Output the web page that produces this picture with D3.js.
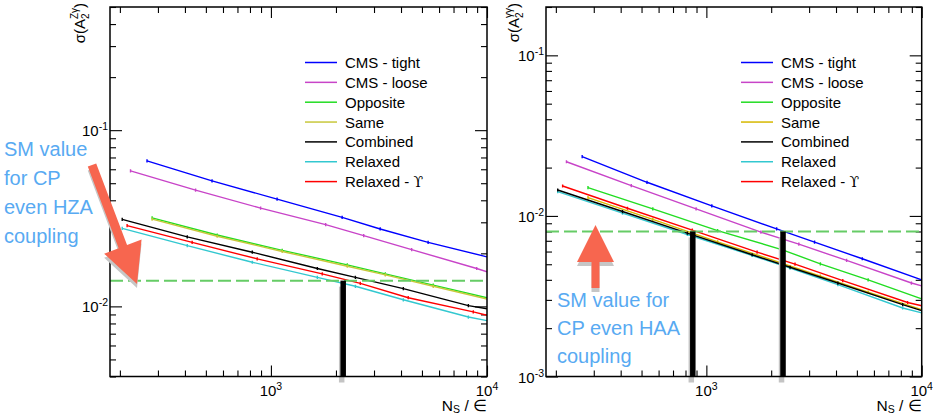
<!DOCTYPE html>
<html><head><meta charset="utf-8">
<script src="https://cdn.jsdelivr.net/npm/d3@7"></script>
<style>
body{margin:0;background:#fff;}
svg{display:block;font-family:"Liberation Sans",Arial,Helvetica,sans-serif;}
</style></head><body>
<svg id="c" width="933" height="415"></svg>
<script>
// ---------------- data ----------------
const seriesNames = ["CMS - tight", "CMS - loose", "Opposite", "Same", "Combined", "Relaxed", "Relaxed - ϒ"];
const xDomain = [180, 10000];
const leftYDomain = [0.004, 0.5];
const rightYDomain = [0.001, 0.2];

// Left panel: sigma(A2^{Zgamma}) vs N_S
const leftN_tight = [267, 534, 1068, 2136, 3204, 5340, 10000];
const leftS_tight = [0.0670, 0.0516, 0.0406, 0.0320, 0.0275, 0.0231, 0.0191];
const leftN_loose = [224, 448, 896, 1792, 2688, 4480, 8960, 10000];
const leftS_loose = [0.0587, 0.0457, 0.0361, 0.0291, 0.0252, 0.0210, 0.0164, 0.0157];
const leftN_opp = [282, 564, 1128, 2256, 3384, 5640, 10000];
const leftS_opp = [0.0318, 0.0254, 0.0208, 0.0172, 0.0153, 0.0132, 0.0112];
const leftN_same = [282, 564, 1128, 2256, 3384, 5640, 10000];
const leftS_same = [0.0313, 0.0250, 0.0205, 0.0169, 0.0151, 0.0130, 0.0110];
const leftN_comb = [205, 410, 820, 1640, 2460, 4100, 8200, 10000];
const leftS_comb = [0.0312, 0.0248, 0.0203, 0.0164, 0.0146, 0.0126, 0.0101, 0.0097];
const leftN_relax = [205, 410, 820, 1640, 2460, 4100, 8200, 10000];
const leftS_relax = [0.0277, 0.0221, 0.0178, 0.0146, 0.0130, 0.0109, 0.0087, 0.0083];
const leftN_relaxY = [216, 432, 864, 1728, 2592, 4320, 8640, 10000];
const leftS_relaxY = [0.0287, 0.0231, 0.0186, 0.0153, 0.0135, 0.0112, 0.0093, 0.0089];

// Right panel: sigma(A2^{gammagamma}) vs N_S
const rightN_tight = [265, 530, 1060, 2120, 3180, 5300, 10000];
const rightS_tight = [0.0234, 0.0162, 0.01154, 0.0083, 0.00687, 0.00541, 0.0040];
const rightN_loose = [224, 448, 896, 1792, 2688, 4480, 8960, 10000];
const rightS_loose = [0.02175, 0.01543, 0.01105, 0.00792, 0.00667, 0.00528, 0.00382, 0.00367];
const rightN_opp = [282, 564, 1128, 2256, 3384, 5640, 10000];
const rightS_opp = [0.01499, 0.01105, 0.00810, 0.00615, 0.00503, 0.00400, 0.00304];
const rightN_same = [282, 564, 1128, 2256, 3384, 5640, 10000];
const rightS_same = [0.01299, 0.00951, 0.00690, 0.00507, 0.00422, 0.00335, 0.00261];
const rightN_comb = [204, 408, 816, 1632, 2448, 4080, 8160, 10000];
const rightS_comb = [0.01450, 0.01065, 0.00782, 0.00573, 0.00479, 0.00382, 0.00280, 0.00257];
const rightN_relax = [204, 408, 816, 1632, 2448, 4080, 8160, 10000];
const rightS_relax = [0.01416, 0.01041, 0.00766, 0.00567, 0.00473, 0.00373, 0.00267, 0.00249];
const rightN_relaxY = [215, 430, 860, 1720, 2580, 4300, 8600, 10000];
const rightS_relaxY = [0.01536, 0.01116, 0.00815, 0.00595, 0.00501, 0.00395, 0.00289, 0.00276];

// SM reference values and crossing points
const leftSM = 0.014;
const rightSM = 0.008;
const leftCrossN = [2160];
const rightCrossN = [865, 2270];

const leftNote = ["SM value", "for CP", "even HZA", "coupling"];
const rightNote = ["SM value for", "CP even HAA", "coupling"];

// ---------------- styles ----------------
const leftColors = ["#0000ff", "#c844c8", "#22dd22", "#c8c83c", "#000000", "#33c8d0", "#ff0000"];
const rightColors = ["#0000ff", "#c844c8", "#22dd22", "#d6b800", "#000000", "#33c8d0", "#ff0000"];
const drawOrder = [0, 1, 2, 3, 5, 6, 4];

const panels = [
  {
    frame: {x0: 110, x1: 487, y0: 7, y1: 376.5},
    yDomain: leftYDomain,
    N: [leftN_tight, leftN_loose, leftN_opp, leftN_same, leftN_comb, leftN_relax, leftN_relaxY],
    S: [leftS_tight, leftS_loose, leftS_opp, leftS_same, leftS_comb, leftS_relax, leftS_relaxY],
    colors: leftColors, sm: leftSM, cross: leftCrossN, ySup: "Zγ", yTitleX: 85,
    note: leftNote
  },
  {
    frame: {x0: 546, x1: 921.7, y0: 7, y1: 376.5},
    yDomain: rightYDomain,
    N: [rightN_tight, rightN_loose, rightN_opp, rightN_same, rightN_comb, rightN_relax, rightN_relaxY],
    S: [rightS_tight, rightS_loose, rightS_opp, rightS_same, rightS_comb, rightS_relax, rightS_relaxY],
    colors: rightColors, sm: rightSM, cross: rightCrossN, ySup: "γγ", yTitleX: 519,
    note: rightNote
  }
];

const svg = d3.select("#c");
const isPow10 = v => Math.abs(Math.log10(v) - Math.round(Math.log10(v))) < 1e-9;

function powLabel(g, x, y, exp, anchor) {
  const t = g.append("text").attr("x", x).attr("y", y).attr("text-anchor", anchor)
    .attr("font-size", 15).attr("fill", "#000");
  t.append("tspan").text("10");
  t.append("tspan").attr("dy", -6).attr("font-size", 10.5).text(exp);
}

function arrowPath(sx, sy, tx, ty, shaftW, headL, headW) {
  const dx = tx - sx, dy = ty - sy, L = Math.hypot(dx, dy);
  const ux = dx / L, uy = dy / L, px = -uy, py = ux;
  const bx = tx - ux * headL, by = ty - uy * headL;
  const pts = [
    [sx + px * shaftW / 2, sy + py * shaftW / 2],
    [bx + px * shaftW / 2, by + py * shaftW / 2],
    [bx + px * headW / 2, by + py * headW / 2],
    [tx, ty],
    [bx - px * headW / 2, by - py * headW / 2],
    [bx - px * shaftW / 2, by - py * shaftW / 2],
    [sx - px * shaftW / 2, sy - py * shaftW / 2]
  ];
  return "M" + pts.map(p => p.join(",")).join("L") + "Z";
}

panels.forEach((p, pi) => {
  const f = p.frame;
  const x = d3.scaleLog().domain(xDomain).range([f.x0, f.x1]);
  const y = d3.scaleLog().domain(p.yDomain).range([f.y1, f.y0]);
  const g = svg.append("g");

  const clipId = "clip" + pi;
  svg.append("clipPath").attr("id", clipId).append("rect")
    .attr("x", f.x0).attr("y", f.y0).attr("width", f.x1 - f.x0).attr("height", f.y1 - f.y0);

  // ticks (ROOT style, inside, all four sides)
  const xt = x.ticks(), yt = y.ticks();
  const xMaj = xt.filter(isPow10), xMin = xt.filter(v => !isPow10(v));
  const yMaj = yt.filter(isPow10), yMin = yt.filter(v => !isPow10(v));
  const mk = (axis, vals, size, tr) => g.append("g").attr("transform", tr)
    .call(axis.tickValues(vals).tickSize(size).tickSizeOuter(0).tickFormat(() => ""))
    .call(s => s.select(".domain").remove())
    .call(s => s.selectAll("line").attr("stroke", "#000").attr("stroke-width", 1.1));
  mk(d3.axisBottom(x), xMin, -6, `translate(0,${f.y1})`);
  mk(d3.axisBottom(x), xMaj, -11, `translate(0,${f.y1})`);
  mk(d3.axisTop(x), xMin, -6, `translate(0,${f.y0})`);
  mk(d3.axisTop(x), xMaj, -11, `translate(0,${f.y0})`);
  mk(d3.axisLeft(y), yMin, -6, `translate(${f.x0},0)`);
  mk(d3.axisLeft(y), yMaj, -12, `translate(${f.x0},0)`);
  mk(d3.axisRight(y), yMin, -6, `translate(${f.x1},0)`);
  mk(d3.axisRight(y), yMaj, -12, `translate(${f.x1},0)`);

  // tick labels
  xMaj.forEach(v => powLabel(g, x(v), 395.5, String(Math.round(Math.log10(v))), "middle"));
  yMaj.forEach(v => powLabel(g, f.x0 - 2, y(v) + 6, String(Math.round(Math.log10(v))), "end"));

  // axis titles
  const xtitle = g.append("text").attr("x", f.x1).attr("y", 410.5).attr("text-anchor", "end")
    .attr("font-size", 15.5);
  xtitle.append("tspan").text("N");
  xtitle.append("tspan").attr("font-size", 10.5).attr("dy", 2.5).text("S");
  xtitle.append("tspan").attr("dy", -2.5).text(" / ∈");

  const ytitle = g.append("text").attr("transform", `translate(${p.yTitleX},3) rotate(-90)`)
    .attr("text-anchor", "end").attr("font-size", 15);
  ytitle.append("tspan").text("σ(A");
  ytitle.append("tspan").attr("font-size", 10).attr("dy", 4).text("2");
  ytitle.append("tspan").attr("font-size", 10).attr("dx", -5.6).attr("dy", -11).text(p.ySup);
  ytitle.append("tspan").attr("dy", 7).text(")");

  // series
  const line = d3.line().x(d => x(d[0])).y(d => y(d[1]));
  const lg = g.append("g").attr("clip-path", `url(#${clipId})`);
  drawOrder.forEach(i => {
    const pts = p.N[i].map((n, k) => [n, p.S[i][k]]);
    lg.append("path").attr("d", line(pts)).attr("fill", "none")
      .attr("stroke", p.colors[i]).attr("stroke-width", 1.4);
    lg.selectAll(null).data(pts.filter(d => d[0] < xDomain[1])).join("line")
      .attr("x1", d => x(d[0])).attr("x2", d => x(d[0]))
      .attr("y1", d => y(d[1]) - 1.6).attr("y2", d => y(d[1]) + 1.6)
      .attr("stroke", p.colors[i]).attr("stroke-width", 1.4);
  });

  // SM dashed line
  g.append("line").attr("x1", f.x0).attr("x2", f.x1).attr("y1", y(p.sm)).attr("y2", y(p.sm))
    .attr("stroke", "#66cc66").attr("stroke-width", 2).attr("stroke-dasharray", "13,5");

  // crossing bars with shadow
  p.cross.forEach(n => {
    g.append("rect").attr("x", x(n) - 2.75 - 1.5).attr("y", y(p.sm) + 6)
      .attr("width", 5.5).attr("height", f.y1 - y(p.sm)).attr("fill", "#c4c4c4");
    g.append("rect").attr("x", x(n) - 2.75).attr("y", y(p.sm))
      .attr("width", 5.5).attr("height", f.y1 - y(p.sm)).attr("fill", "#000");
  });

  // frame
  g.append("rect").attr("x", f.x0).attr("y", f.y0).attr("width", f.x1 - f.x0).attr("height", f.y1 - f.y0)
    .attr("fill", "none").attr("stroke", "#000").attr("stroke-width", 1.5);

  // legend
  const leg = g.append("g");
  seriesNames.forEach((name, i) => {
    const ly = 62.5 + 19.85 * i;
    leg.append("line").attr("x1", f.x0 + 195).attr("x2", f.x0 + 227).attr("y1", ly).attr("y2", ly)
      .attr("stroke", p.colors[i]).attr("stroke-width", 1.5);
    const t = leg.append("text").attr("x", f.x0 + 235).attr("y", ly + 5.5).attr("font-size", 15);
    if (name.endsWith("ϒ")) {
      t.append("tspan").text(name.slice(0, -1));
      t.append("tspan").attr("font-family", "'DejaVu Serif', serif").attr("font-size", 14).text("ϒ");
    } else t.text(name);
  });

  // annotation arrow + text
  const shadow = "#c6c6c6", arrowCol = "#f7664f", noteCol = "#58aaf2";
  let apath;
  if (pi === 0) {
    apath = arrowPath(92, 165, 137, 284, 9, 40, 40);
  } else {
    apath = arrowPath(595.5, 288, 595.5, 225, 8, 37, 37);
  }
  g.append("path").attr("d", apath).attr("fill", shadow).attr("transform", "translate(0,4)");
  g.append("path").attr("d", apath).attr("fill", arrowCol);

  const note = g.append("text").attr("font-size", 20).attr("fill", noteCol);
  if (pi === 0) {
    p.note.forEach((s, k) => note.append("tspan").attr("x", 4).attr("y", 156 + 29 * k).text(s));
  } else {
    p.note.forEach((s, k) => note.append("tspan").attr("x", 557).attr("y", 307 + 28 * k).text(s));
  }
});
</script>
</body></html>
